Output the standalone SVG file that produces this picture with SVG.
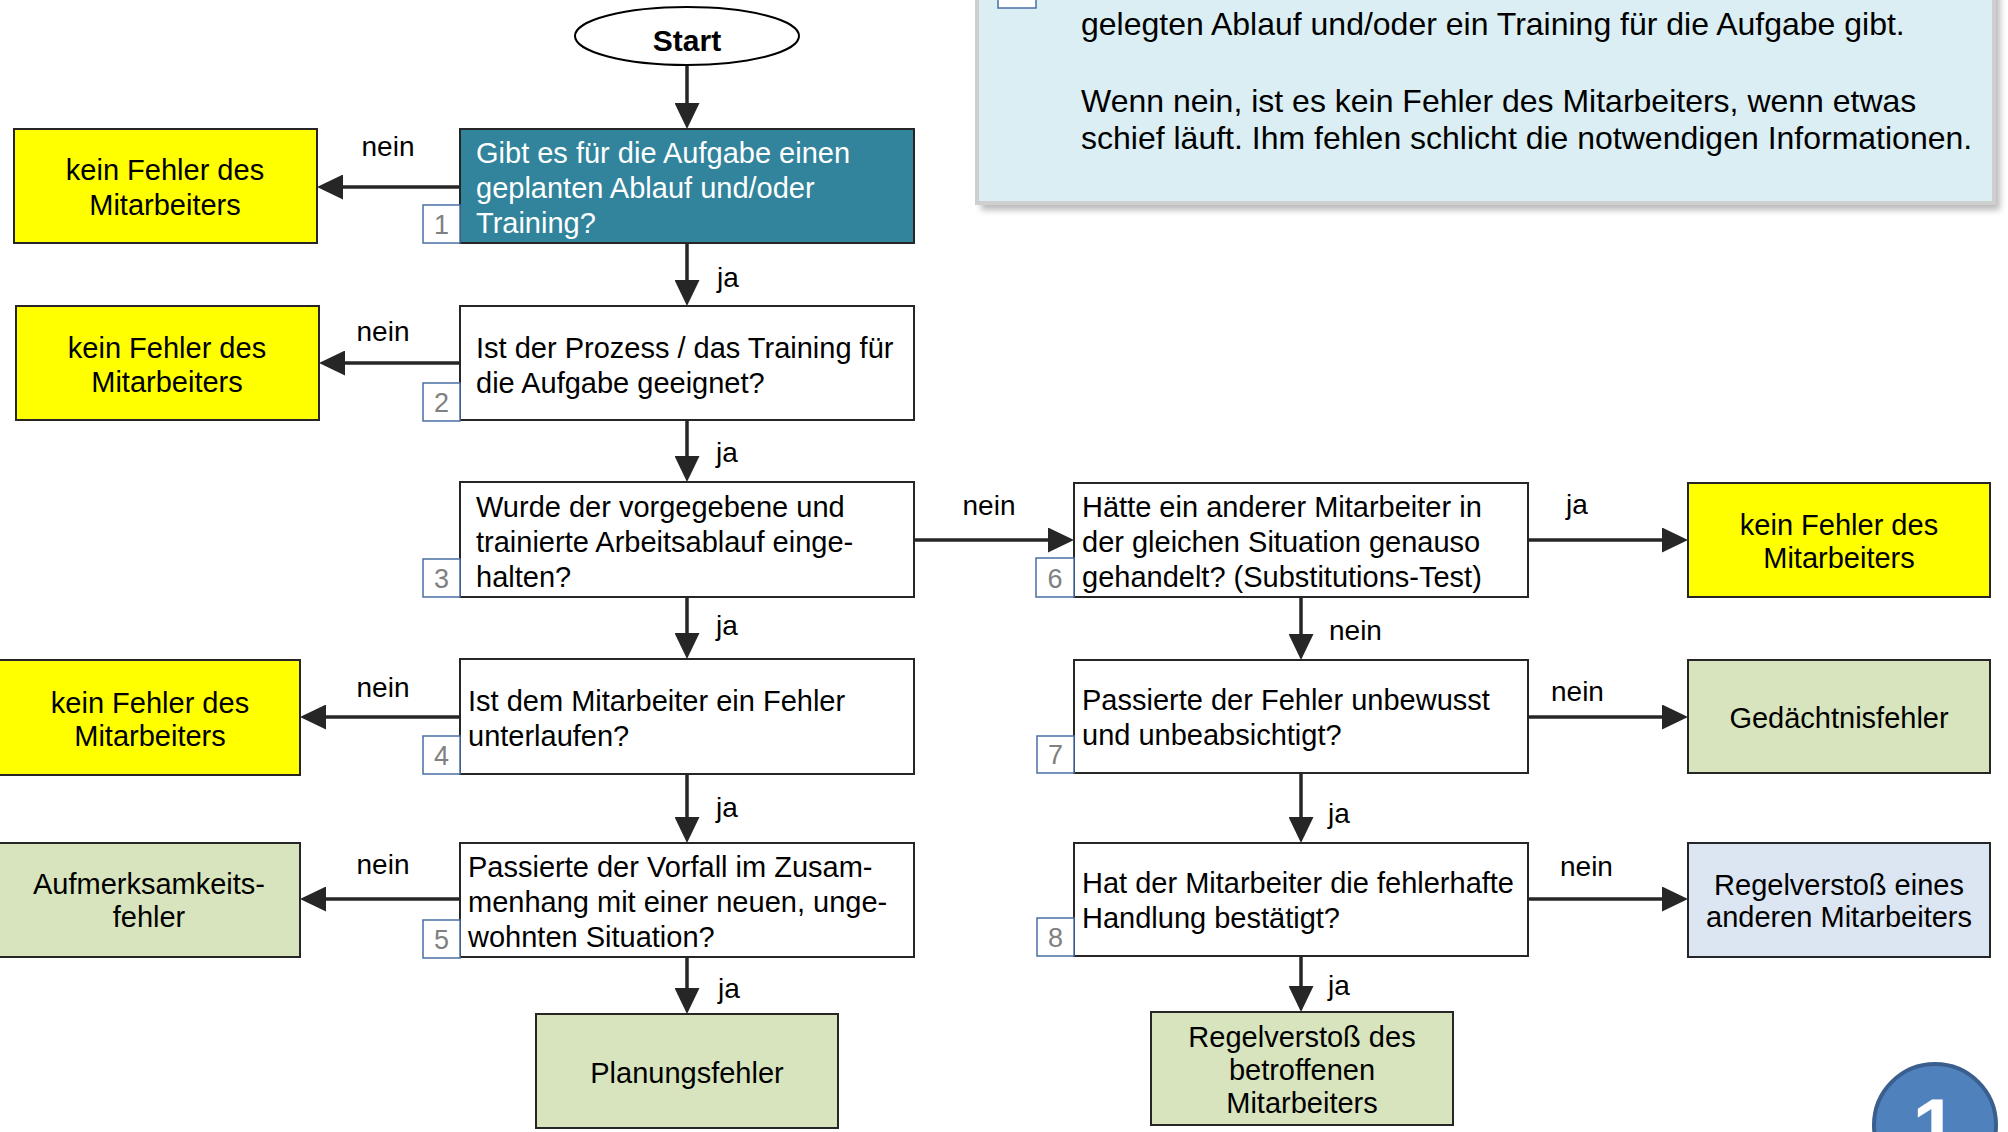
<svg xmlns="http://www.w3.org/2000/svg" width="2008" height="1132" viewBox="0 0 2008 1132">
<defs>
<marker id="ah" viewBox="0 0 26 25" markerWidth="26" markerHeight="25" refX="12" refY="12.5" orient="auto" markerUnits="userSpaceOnUse">
<path d="M0,0 L26,12.5 L0,25 z" fill="#262626"/>
</marker>
<filter id="sh" x="-5%" y="-20%" width="110%" height="140%">
<feGaussianBlur stdDeviation="3"/>
</filter>
<style>
.t{font-family:"Liberation Sans",Arial,sans-serif;font-size:29px;fill:#000}
.c{text-anchor:middle}
.w{fill:#fff}
.lb{font-family:"Liberation Sans",Arial,sans-serif;font-size:28px;fill:#000}
.p{font-family:"Liberation Sans",Arial,sans-serif;font-size:32px;fill:#000}
.box{stroke:#262626;stroke-width:2}
.q{fill:#fff}
.yl{fill:#ffff00}
.gr{fill:#d7e4bd}
.bl{fill:#dce6f2}
.bd{fill:#fff;stroke:#4a6fa5;stroke-width:1.5}
.bn{font-family:"Liberation Sans",Arial,sans-serif;font-size:27px;fill:#808080;text-anchor:middle}
.ln{fill:none;stroke:#262626;stroke-width:3.5;marker-end:url(#ah)}
</style>
</defs>
<rect width="2008" height="1132" fill="#fff"/>

<g id="info-panel">
<rect x="981" y="-10" width="1019" height="220" fill="#8a8a8a" opacity="0.6" filter="url(#sh)"/>
<rect x="977" y="-12" width="1017" height="215" fill="#daeef3" stroke="#cfcfcf" stroke-width="4"/>
<rect x="998" y="-30" width="38" height="38" class="bd"/>
<text class="p" x="1081" y="35">gelegten Ablauf und/oder ein Training für die Aufgabe gibt.</text>
<text class="p" x="1081" y="112">Wenn nein, ist es kein Fehler des Mitarbeiters, wenn etwas</text>
<text class="p" x="1081" y="149">schief läuft. Ihm fehlen schlicht die notwendigen Informationen.</text>
</g>

<g id="connectors">
<path class="ln" d="M687,65 V115"/>
<path class="ln" d="M687,243 V292"/>
<path class="ln" d="M687,420 V468"/>
<path class="ln" d="M687,597 V645"/>
<path class="ln" d="M687,774 V829"/>
<path class="ln" d="M687,957 V1000"/>
<path class="ln" d="M460,187 H331"/>
<path class="ln" d="M460,363 H333"/>
<path class="ln" d="M460,717 H314"/>
<path class="ln" d="M460,899 H314"/>
<path class="ln" d="M914,540 H1060"/>
<path class="ln" d="M1528,540 H1674"/>
<path class="ln" d="M1301,597 V646"/>
<path class="ln" d="M1528,717 H1674"/>
<path class="ln" d="M1301,773 V829"/>
<path class="ln" d="M1528,899 H1674"/>
<path class="ln" d="M1301,956 V998"/>
<text class="lb c" x="388" y="156">nein</text>
<text class="lb" x="717" y="287">ja</text>
<text class="lb c" x="383" y="341">nein</text>
<text class="lb" x="716" y="462">ja</text>
<text class="lb c" x="989" y="515">nein</text>
<text class="lb" x="716" y="635">ja</text>
<text class="lb c" x="383" y="697">nein</text>
<text class="lb" x="716" y="817">ja</text>
<text class="lb c" x="383" y="874">nein</text>
<text class="lb" x="718" y="998">ja</text>
<text class="lb" x="1566" y="514">ja</text>
<text class="lb" x="1329" y="640">nein</text>
<text class="lb" x="1551" y="701">nein</text>
<text class="lb" x="1328" y="823">ja</text>
<text class="lb" x="1560" y="876">nein</text>
<text class="lb" x="1328" y="995">ja</text>
</g>

<g id="start">
<ellipse cx="687" cy="36" rx="112" ry="29" fill="#fff" stroke="#000" stroke-width="2"/>
<text class="t c" x="687" y="51" style="font-weight:bold;font-size:30px">Start</text>
</g>

<g id="q1">
<rect class="box" x="460" y="129" width="454" height="114" fill="#31849b"/>
<text class="t w" x="476" y="163">Gibt es für die Aufgabe einen</text>
<text class="t w" x="476" y="198">geplanten Ablauf und/oder</text>
<text class="t w" x="476" y="233">Training?</text>
<rect class="bd" x="423" y="205" width="37" height="38"/>
<text class="bn" x="441.5" y="234">1</text>
</g>
<g id="y1">
<rect class="box yl" x="14" y="129" width="303" height="114"/>
<text class="t c" x="165" y="180">kein Fehler des</text>
<text class="t c" x="165" y="215">Mitarbeiters</text>
</g>

<g id="q2">
<rect class="box q" x="460" y="306" width="454" height="114"/>
<text class="t" x="476" y="358">Ist der Prozess / das Training für</text>
<text class="t" x="476" y="393">die Aufgabe geeignet?</text>
<rect class="bd" x="423" y="383" width="37" height="38"/>
<text class="bn" x="441.5" y="412">2</text>
</g>
<g id="y2">
<rect class="box yl" x="16" y="306" width="303" height="114"/>
<text class="t c" x="167" y="358">kein Fehler des</text>
<text class="t c" x="167" y="392">Mitarbeiters</text>
</g>

<g id="q3">
<rect class="box q" x="460" y="482" width="454" height="115"/>
<text class="t" x="476" y="517">Wurde der vorgegebene und</text>
<text class="t" x="476" y="552">trainierte Arbeitsablauf einge-</text>
<text class="t" x="476" y="587">halten?</text>
<rect class="bd" x="423" y="559" width="37" height="38"/>
<text class="bn" x="441.5" y="588">3</text>
</g>

<g id="q4">
<rect class="box q" x="460" y="659" width="454" height="115"/>
<text class="t" x="468" y="711">Ist dem Mitarbeiter ein Fehler</text>
<text class="t" x="468" y="746">unterlaufen?</text>
<rect class="bd" x="423" y="736" width="37" height="38"/>
<text class="bn" x="441.5" y="765">4</text>
</g>
<g id="y4">
<rect class="box yl" x="-2" y="660" width="302" height="115"/>
<text class="t c" x="150" y="713">kein Fehler des</text>
<text class="t c" x="150" y="746">Mitarbeiters</text>
</g>

<g id="q5">
<rect class="box q" x="460" y="843" width="454" height="114"/>
<text class="t" x="468" y="877">Passierte der Vorfall im Zusam-</text>
<text class="t" x="468" y="912">menhang mit einer neuen, unge-</text>
<text class="t" x="468" y="947">wohnten Situation?</text>
<rect class="bd" x="423" y="920" width="37" height="38"/>
<text class="bn" x="441.5" y="949">5</text>
</g>
<g id="a5">
<rect class="box gr" x="-2" y="843" width="302" height="114"/>
<text class="t c" x="149" y="894">Aufmerksamkeits-</text>
<text class="t c" x="149" y="927">fehler</text>
</g>
<g id="plan">
<rect class="box gr" x="536" y="1014" width="302" height="114"/>
<text class="t c" x="687" y="1083">Planungsfehler</text>
</g>

<g id="q6">
<rect class="box q" x="1074" y="483" width="454" height="114"/>
<text class="t" x="1082" y="517">Hätte ein anderer Mitarbeiter in</text>
<text class="t" x="1082" y="552">der gleichen Situation genauso</text>
<text class="t" x="1082" y="587">gehandelt? (Substitutions-Test)</text>
<rect class="bd" x="1036" y="558" width="38" height="39"/>
<text class="bn" x="1055" y="588">6</text>
</g>
<g id="y6">
<rect class="box yl" x="1688" y="483" width="302" height="114"/>
<text class="t c" x="1839" y="535">kein Fehler des</text>
<text class="t c" x="1839" y="568">Mitarbeiters</text>
</g>

<g id="q7">
<rect class="box q" x="1074" y="660" width="454" height="113"/>
<text class="t" x="1082" y="710">Passierte der Fehler unbewusst</text>
<text class="t" x="1082" y="745">und unbeabsichtigt?</text>
<rect class="bd" x="1037" y="736" width="37" height="37"/>
<text class="bn" x="1055.5" y="764">7</text>
</g>
<g id="ged">
<rect class="box gr" x="1688" y="660" width="302" height="113"/>
<text class="t c" x="1839" y="728">Gedächtnisfehler</text>
</g>

<g id="q8">
<rect class="box q" x="1074" y="843" width="454" height="113"/>
<text class="t" x="1082" y="893">Hat der Mitarbeiter die fehlerhafte</text>
<text class="t" x="1082" y="928">Handlung bestätigt?</text>
<rect class="bd" x="1037" y="918" width="37" height="38"/>
<text class="bn" x="1055.5" y="947">8</text>
</g>
<g id="r8">
<rect class="box bl" x="1688" y="843" width="302" height="114"/>
<text class="t c" x="1839" y="895">Regelverstoß eines</text>
<text class="t c" x="1839" y="927">anderen Mitarbeiters</text>
</g>
<g id="rd">
<rect class="box gr" x="1151" y="1012" width="302" height="113"/>
<text class="t c" x="1302" y="1047">Regelverstoß des</text>
<text class="t c" x="1302" y="1080">betroffenen</text>
<text class="t c" x="1302" y="1113">Mitarbeiters</text>
</g>

<g id="step-badge">
<circle cx="1935" cy="1125" r="61" fill="#4f81bd" stroke="#3a5f8f" stroke-width="4"/>
<text x="1935" y="1156" text-anchor="middle" style="font-family:'Liberation Sans',Arial,sans-serif;font-weight:bold;font-size:82px;fill:#fff">1</text>
</g>
</svg>
